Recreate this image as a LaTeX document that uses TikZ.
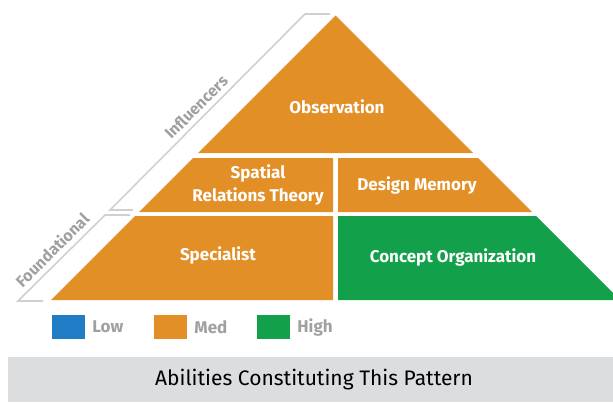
\documentclass[tikz,border=0pt]{standalone}
\usepackage{fontspec}
\setmainfont{Fira Sans}
\usepackage{tikz}
\usetikzlibrary{calc}
\usetikzlibrary{positioning}

\definecolor{medorange}{RGB}{227,143,40}
\definecolor{highgreen}{RGB}{19,160,74}
\definecolor{lowblue}{RGB}{30,125,197}
\definecolor{bracketgray}{RGB}{208,208,208}
\definecolor{labelgray}{RGB}{160,160,160}
\definecolor{bandgray}{RGB}{220,221,223}

\tikzset{
	celltext/.style={text=white,font=\bfseries\fontsize{17}{23}\selectfont,align=center},
	legendbox/.style={minimum width=33pt,minimum height=24pt,inner sep=0pt},
	legendtext/.style={text=labelgray,font=\bfseries\fontsize{17}{20}\selectfont,inner sep=0pt},
	levelline/.style={draw=bracketgray,line width=1.6pt},
	leveltext/.style={text=labelgray,font=\bfseries\fontsize{16}{18}\selectfont,rotate=45,inner sep=0pt}
}

\begin{document}
\begin{tikzpicture}[x=1pt,y=-1pt]
		\useasboundingbox (0,0) rectangle (613,402);
		% pyramid
		\fill[medorange] (335.5,15.5) -- (473,153) -- (198,153) -- cycle;
		\fill[medorange] (193,158) -- (333,158) -- (333,212) -- (139,212) -- cycle;
		\fill[medorange] (338,158) -- (478,158) -- (532,212) -- (338,212) -- cycle;
		\fill[medorange] (135,216) -- (333,216) -- (333,300) -- (51,300) -- cycle;
		\fill[highgreen] (338,216) -- (536,216) -- (620,300) -- (338,300) -- cycle;
		\node[celltext] (obs) at (337,107) {Observation};
		\node[celltext] (spatial) at (258,185) {Spatial\\Relations Theory};
		\node[celltext] (design) at (417,185) {Design Memory};
		\node[celltext] (special) at (218,255) {Specialist};
		\node[celltext] (concept) at (453,257) {Concept Organization};
		% levels
		\draw[levelline] (330,14) -- (305,14) -- (110,210) -- (133,210);
		\draw[levelline] (130,215) -- (105,215) -- (18,301) -- (43,301);
		\node[leveltext] (influ) at (196,107) {Influencers};
		\node[leveltext] (found) at (52,250) {Foundational};
		% legend
		\node[legendbox,fill=lowblue] (lowbox) at (68.5,327) {};
		\node[legendtext,right=7pt of lowbox] (lowtxt) {Low};
		\node[legendbox,fill=medorange] (medbox) at (170.5,327) {};
		\node[legendtext,right=7pt of medbox] (medtxt) {Med};
		\node[legendbox,fill=highgreen] (highbox) at (273.5,327) {};
		\node[legendtext,right=7pt of highbox] (hightxt) {High};
		% caption
		\fill[bandgray] (8,357) rectangle (613,402);
		\node[font=\fontsize{21}{25}\selectfont] (caption) at (314,380) {Abilities Constituting This Pattern};
\end{tikzpicture}
\end{document}
